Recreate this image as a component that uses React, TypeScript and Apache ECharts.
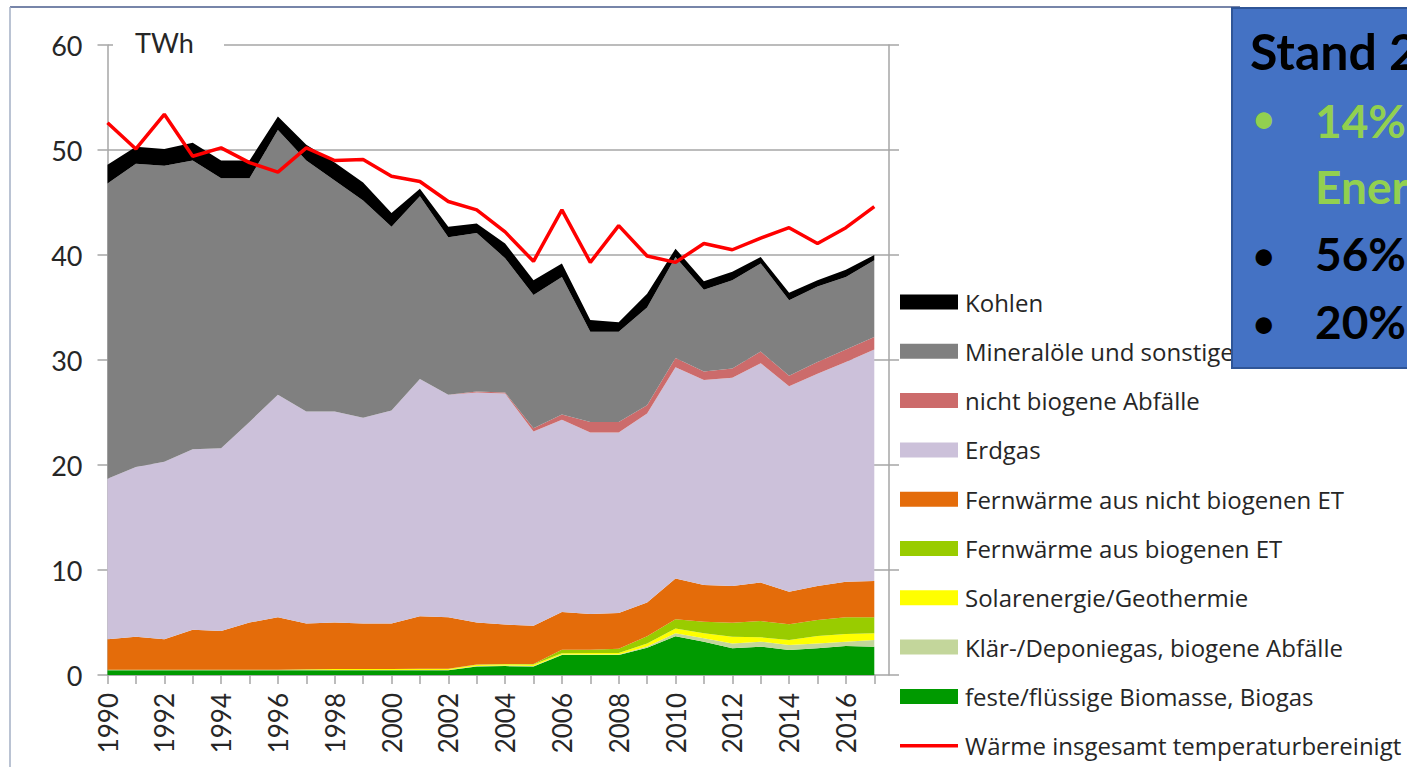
import React, { useEffect, useRef } from 'react';
import * as echarts from 'echarts';

const years = ['1990','1991','1992','1993','1994','1995','1996','1997','1998','1999','2000','2001','2002','2003','2004','2005','2006','2007','2008','2009','2010','2011','2012','2013','2014','2015','2016','2017'];

const biomasse = [0.45,0.45,0.45,0.45,0.45,0.45,0.45,0.45,0.45,0.45,0.45,0.45,0.45,0.8,0.85,0.8,1.9,1.9,1.9,2.6,3.7,3.17,2.54,2.7,2.38,2.54,2.76,2.7];
const klaergas = [0.03,0.03,0.03,0.03,0.03,0.03,0.03,0.03,0.03,0.03,0.03,0.03,0.03,0.05,0.05,0.05,0.06,0.06,0.06,0.12,0.27,0.33,0.46,0.47,0.48,0.46,0.41,0.63];
const solar = [0,0,0,0,0,0,0,0.05,0.08,0.08,0.08,0.1,0.1,0.12,0.12,0.15,0.1,0.14,0.14,0.28,0.47,0.47,0.65,0.42,0.47,0.71,0.73,0.64];
const fwBiogen = [0.02,0.02,0.02,0.02,0.02,0.02,0.02,0.02,0.02,0.02,0.02,0.02,0.02,0.03,0.03,0.05,0.34,0.3,0.4,0.7,0.86,1.11,1.33,1.55,1.5,1.53,1.59,1.52];
const fwNichtBiogen = [2.9,3.15,2.9,3.8,3.7,4.5,5.0,4.35,4.42,4.32,4.32,5.0,4.9,4.0,3.75,3.65,3.6,3.4,3.4,3.2,3.9,3.49,3.5,3.66,3.1,3.24,3.4,3.46];
const erdgas = [15.3,16.15,16.9,17.2,17.4,19.1,21.2,20.2,20.1,19.6,20.3,22.6,21.2,21.9,22.0,18.5,18.3,17.3,17.2,18.0,20.1,19.53,19.82,20.9,19.57,20.22,20.91,22.05];
const nichtBiogeneAbfaelle = [0,0,0,0,0,0,0,0,0,0,0,0,0,0.1,0.1,0.3,0.5,1.0,1.0,0.8,0.9,0.8,0.9,1.1,1.0,1.1,1.2,1.2];
const mineraloele = [28.1,28.9,28.2,27.5,25.7,23.2,25.2,23.9,22.0,20.7,17.5,17.4,15.0,15.1,12.8,12.7,13.1,8.6,8.6,9.3,9.6,7.8,8.4,8.4,7.2,7.2,6.9,7.3];
const kohlen = [1.8,1.6,1.6,1.7,1.7,1.7,1.3,1.5,1.7,1.7,1.3,0.7,1.0,0.9,1.4,1.4,1.3,1.1,0.9,1.3,0.8,0.8,0.8,0.6,0.7,0.6,0.7,0.5];
const waermeGesamt = [52.6,50.1,53.4,49.4,50.2,48.8,47.9,50.2,49.0,49.1,47.5,47.0,45.1,44.3,42.2,39.4,44.3,39.3,42.8,39.9,39.3,41.1,40.5,41.6,42.6,41.1,42.6,44.6];

const names = {
  kohlen: 'Kohlen',
  mineral: 'Mineralöle und sonstige',
  nichtBio: 'nicht biogene Abfälle',
  erdgas: 'Erdgas',
  fwNicht: 'Fernwärme aus nicht biogenen ET',
  fwBio: 'Fernwärme aus biogenen ET',
  solar: 'Solarenergie/Geothermie',
  klaer: 'Klär-/Deponiegas, biogene Abfälle',
  bio: 'feste/flüssige Biomasse, Biogas',
  waerme: 'Wärme insgesamt temperaturbereinigt',
};

const boxLines = ['Stand 2', '14%', 'Ener', '56%', '20%'];

export default function App() {
  const ref = useRef<HTMLDivElement>(null);
  useEffect(() => {
    const chart = echarts.init(ref.current as HTMLDivElement, null, { renderer: 'svg' });
    const FONT = 'Lato, "Open Sans", sans-serif';
    const LEGEND_FONT = '"Open Sans", Lato, sans-serif';
    const GRAY = '#A6A6A6';
    const area = (name: string, data: number[], color: string) => ({
      name,
      type: 'line',
      stack: 'total',
      data,
      symbol: 'none',
      showSymbol: false,
      silent: true,
      xAxisIndex: 0,
      yAxisIndex: 0,
      z: 2,
      lineStyle: { width: 0, color },
      itemStyle: { color },
      areaStyle: { color, opacity: 1 },
    });
    const option: any = {
      animation: false,
      backgroundColor: '#ffffff',
      textStyle: { fontFamily: FONT },
      grid: [
        { left: 107.5, top: 45, width: 766.8, height: 630, containLabel: false, outerBoundsMode: 'none' },
        { left: 107.5, top: 45, width: 781.5, height: 630, containLabel: false, outerBoundsMode: 'none' },
      ],
      xAxis: [
        {
          type: 'category',
          gridIndex: 0,
          data: years,
          boundaryGap: false,
          axisLine: { show: true, lineStyle: { color: GRAY, width: 1.5 } },
          axisTick: { show: true, interval: 0, length: 9, lineStyle: { color: GRAY, width: 1.5 } },
          axisLabel: { interval: 1, rotate: 90, margin: 18, fontSize: 26, color: '#262626', fontFamily: FONT },
          splitLine: { show: false },
        },
        { type: 'value', gridIndex: 1, min: 0, max: 1, show: false },
      ],
      yAxis: [
        { type: 'value', gridIndex: 0, min: 0, max: 60, interval: 10, show: false, splitLine: { show: false } },
        {
          type: 'value',
          gridIndex: 1,
          min: 0,
          max: 60,
          interval: 10,
          position: 'left',
          axisLine: { show: true, lineStyle: { color: GRAY, width: 1.5 } },
          axisTick: { show: true, length: 10, lineStyle: { color: GRAY, width: 1.5 } },
          axisLabel: { margin: 25, fontSize: 27, color: '#262626', fontFamily: FONT },
          splitLine: { show: true, lineStyle: { color: GRAY, width: 1.5 } },
        },
        {
          type: 'value',
          gridIndex: 1,
          min: 0,
          max: 60,
          interval: 10,
          position: 'right',
          axisLine: { show: true, lineStyle: { color: GRAY, width: 1.5 } },
          axisTick: { show: true, length: 10, lineStyle: { color: GRAY, width: 1.5 } },
          axisLabel: { show: false },
          splitLine: { show: false },
        },
      ],
      legend: {
        orient: 'vertical',
        left: 900,
        top: 289,
        padding: 0,
        itemWidth: 58,
        itemHeight: 15,
        itemGap: 23.3,
        selectedMode: false,
        textStyle: { fontFamily: LEGEND_FONT, fontSize: 24, color: '#262626', lineHeight: 26, padding: [0, 0, 0, 2] },
        data: [
          { name: names.kohlen, icon: 'rect' },
          { name: names.mineral, icon: 'rect' },
          { name: names.nichtBio, icon: 'rect' },
          { name: names.erdgas, icon: 'rect' },
          { name: names.fwNicht, icon: 'rect' },
          { name: names.fwBio, icon: 'rect' },
          { name: names.solar, icon: 'rect' },
          { name: names.klaer, icon: 'rect' },
          { name: names.bio, icon: 'rect' },
          { name: names.waerme, icon: 'path://M0,0H60V3.5H0Z' },
        ],
      },
      series: [
        area(names.bio, biomasse, '#009A00'),
        area(names.klaer, klaergas, '#C3D69B'),
        area(names.solar, solar, '#FFFF00'),
        area(names.fwBio, fwBiogen, '#99CC00'),
        area(names.fwNicht, fwNichtBiogen, '#E46C0A'),
        area(names.erdgas, erdgas, '#CCC1DA'),
        area(names.nichtBio, nichtBiogeneAbfaelle, '#CC6B6B'),
        area(names.mineral, mineraloele, '#808080'),
        area(names.kohlen, kohlen, '#000000'),
        {
          name: names.waerme,
          type: 'line',
          data: waermeGesamt,
          symbol: 'none',
          showSymbol: false,
          silent: true,
          xAxisIndex: 0,
          yAxisIndex: 0,
          z: 5,
          itemStyle: { color: '#FF0000' },
          lineStyle: { color: '#FF0000', width: 3.5 },
        },
      ],
      graphic: [
        { type: 'line', z: 100, shape: { x1: 10, y1: 7, x2: 1240, y2: 7 }, style: { stroke: '#4A5C8C', lineWidth: 1.5 } },
        { type: 'line', z: 100, shape: { x1: 10, y1: 7, x2: 10, y2: 767 }, style: { stroke: '#A3AFC4', lineWidth: 1.5 } },
        { type: 'rect', z: 100, shape: { x: 113, y: 36, width: 111, height: 18 }, style: { fill: '#ffffff' } },
        {
          type: 'text', z: 101, x: 135, y: 42,
          style: { text: 'TWh', fontFamily: FONT, fontSize: 27, fill: '#262626', verticalAlign: 'middle', align: 'left' },
        },
        {
          type: 'rect', z: 110, shape: { x: 1232, y: 8, width: 200, height: 360 },
          style: { fill: '#4472C4', stroke: '#2F5597', lineWidth: 2 },
        },
        {
          type: 'text', z: 111, x: 1250, y: 51,
          style: { text: boxLines[0], fontFamily: FONT, fontWeight: 'bold', fontSize: 50, fill: '#000000', verticalAlign: 'middle' },
        },
        { type: 'text', z: 111, x: 1251, y: 117, style: { text: '•', fontFamily: FONT, fontSize: 44, fill: '#92D050', verticalAlign: 'middle' } },
        {
          type: 'text', z: 111, x: 1315, y: 120,
          style: { text: boxLines[1], fontFamily: FONT, fontWeight: 'bold', fontSize: 46, fill: '#92D050', verticalAlign: 'middle' },
        },
        {
          type: 'text', z: 111, x: 1315, y: 186,
          style: { text: boxLines[2], fontFamily: FONT, fontWeight: 'bold', fontSize: 46, fill: '#92D050', verticalAlign: 'middle' },
        },
        { type: 'text', z: 111, x: 1251, y: 254, style: { text: '•', fontFamily: FONT, fontSize: 44, fill: '#000000', verticalAlign: 'middle' } },
        {
          type: 'text', z: 111, x: 1315, y: 253,
          style: { text: boxLines[3], fontFamily: FONT, fontWeight: 'bold', fontSize: 46, fill: '#000000', verticalAlign: 'middle' },
        },
        { type: 'text', z: 111, x: 1251, y: 322, style: { text: '•', fontFamily: FONT, fontSize: 44, fill: '#000000', verticalAlign: 'middle' } },
        {
          type: 'text', z: 111, x: 1315, y: 321,
          style: { text: boxLines[4], fontFamily: FONT, fontWeight: 'bold', fontSize: 46, fill: '#000000', verticalAlign: 'middle' },
        },
      ],
    };
    chart.setOption(option);
    return () => chart.dispose();
  }, []);
  return (
    <div
      ref={ref}
      style={{ position: 'fixed', left: 0, top: 0, width: 1407, height: 767, background: '#ffffff' }}
    />
  );
}
